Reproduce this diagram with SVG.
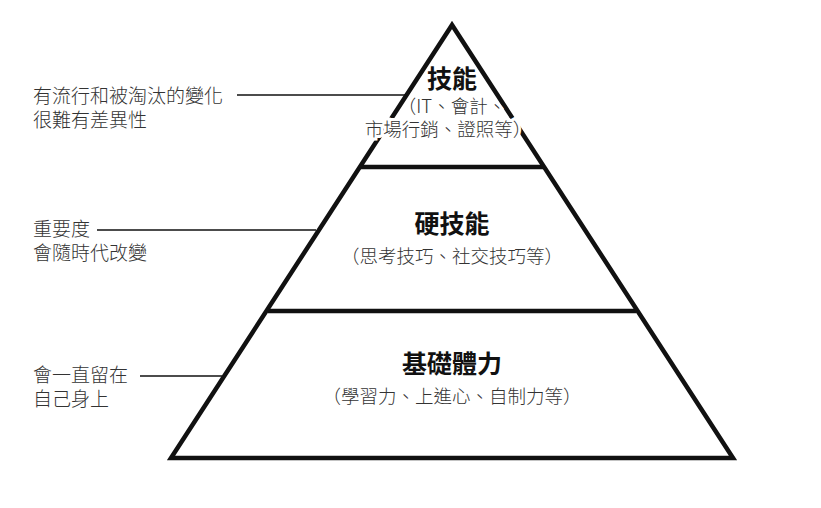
<svg xmlns="http://www.w3.org/2000/svg" width="821" height="508" viewBox="0 0 821 508">
<style>
text{font-family:"Noto Sans CJK TC","Noto Sans CJK SC",sans-serif;fill:#333;}
.l{font-size:19px;font-weight:300}
.t{font-size:25px;font-weight:700;text-anchor:middle;fill:#111}
.s{font-size:18.5px;font-weight:300;text-anchor:middle;paint-order:stroke;stroke:#fff;stroke-width:6px}
.p{fill:none;stroke:#111;stroke-width:4.5;stroke-linejoin:miter}
.c{stroke:#111;stroke-width:1.6}
</style>
<rect width="821" height="508" fill="#fff"/>
<g id="pyramid">
<path class="p" d="M452 25 L171 458 L733 458 Z"/>
<line class="p" x1="361" y1="167" x2="543" y2="167"/>
<line class="p" x1="268" y1="311" x2="636" y2="311"/>
</g>
<g id="connectors">
<line class="c" x1="237" y1="95" x2="407" y2="95"/>
<line class="c" x1="97" y1="230" x2="316" y2="230"/>
<line class="c" x1="140" y1="376" x2="222" y2="376"/>
</g>
<g id="top">
<text class="t" x="452" y="88">技能</text>
<text class="s" x="452" y="113">（IT、會計、</text>
<text class="s" x="448" y="136">市場行銷、證照等）</text>
</g>
<g id="middle">
<text class="t" x="452" y="233">硬技能</text>
<text class="s" x="452" y="263">（思考技巧、社交技巧等）</text>
</g>
<g id="bottom">
<text class="t" x="452" y="373">基礎體力</text>
<text class="s" x="452" y="403">（學習力、上進心、自制力等）</text>
</g>
<g id="label1"><text class="l" x="33" y="103">有流行和被淘汰的變化</text><text class="l" x="33" y="127">很難有差異性</text></g>
<g id="label2"><text class="l" x="33" y="236">重要度</text><text class="l" x="33" y="260">會隨時代改變</text></g>
<g id="label3"><text class="l" x="33" y="382">會一直留在</text><text class="l" x="33" y="406">自己身上</text></g>
</svg>
